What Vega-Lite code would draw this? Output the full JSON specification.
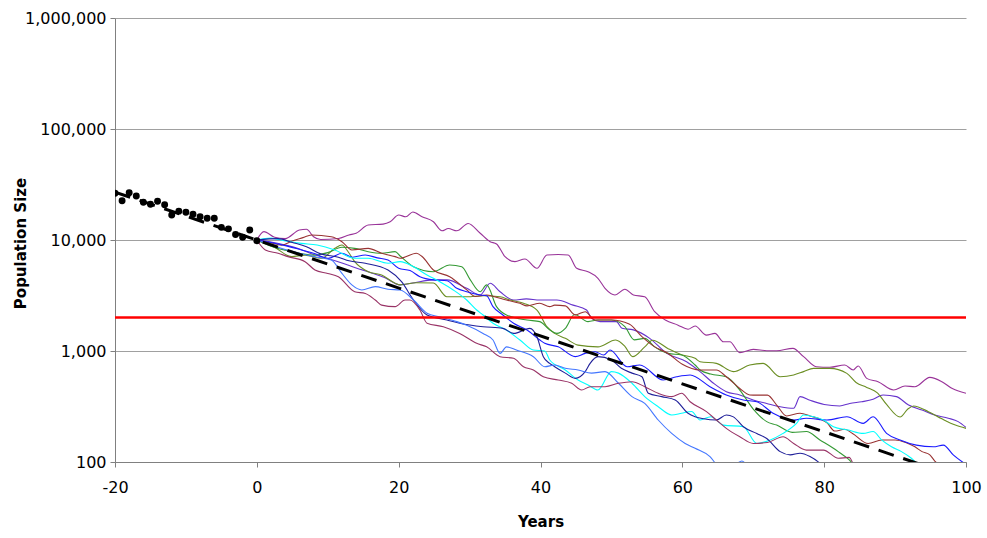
{
  "$schema": "https://vega.github.io/schema/vega-lite/v6.json",
  "width": 851,
  "height": 444,
  "autosize": "none",
  "padding": {"left": 115, "top": 18, "right": 21, "bottom": 76},
  "background": "white",
  "config": {"view": {"stroke": null}, "font": "DejaVu Sans"},
  "datasets": {
    "obs": [
      {"t": -20, "n": 26350}, {"t": -19, "n": 22600}, {"t": -18, "n": 26700}, {"t": -17, "n": 24900},
      {"t": -16, "n": 21900}, {"t": -15, "n": 21000}, {"t": -14, "n": 22300}, {"t": -13, "n": 20800},
      {"t": -12, "n": 16800}, {"t": -11, "n": 18200}, {"t": -10, "n": 17800}, {"t": -9, "n": 17100},
      {"t": -8, "n": 16200}, {"t": -7, "n": 15700}, {"t": -6, "n": 15700}, {"t": -5, "n": 13000},
      {"t": -4, "n": 12600}, {"t": -3, "n": 11200}, {"t": -2, "n": 10600}, {"t": -1, "n": 12300},
      {"t": 0, "n": 9850}
    ],
    "trend": [{"t": -20, "n": 27000}, {"t": 100, "n": 69.2}],
    "thresh": [{"t": -20, "n": 2000}, {"t": 100, "n": 2000}],
    "sims": [
      {"s":"purple","t":0,"n":10000},{"s":"purple","t":1,"n":11900},{"s":"purple","t":2.5,"n":10600},{"s":"purple","t":4,"n":10300},{"s":"purple","t":6,"n":12300},{"s":"purple","t":7,"n":12500},{"s":"purple","t":8,"n":10700},{"s":"purple","t":9,"n":10100},{"s":"purple","t":11.5,"n":10300},{"s":"purple","t":13,"n":11100},{"s":"purple","t":14,"n":11500},{"s":"purple","t":15.7,"n":13650},{"s":"purple","t":17.8,"n":13900},{"s":"purple","t":18.8,"n":14600},{"s":"purple","t":20,"n":16800},{"s":"purple","t":21,"n":16200},{"s":"purple","t":22,"n":17900},{"s":"purple","t":23.3,"n":16200},{"s":"purple","t":24.9,"n":14600},{"s":"purple","t":26.1,"n":12100},{"s":"purple","t":27,"n":12700},{"s":"purple","t":28.2,"n":12100},{"s":"purple","t":29.8,"n":14100},{"s":"purple","t":31.5,"n":11500},{"s":"purple","t":32.9,"n":9660},{"s":"purple","t":33.8,"n":9210},{"s":"purple","t":35,"n":7070},{"s":"purple","t":36.4,"n":6380},{"s":"purple","t":37.8,"n":6750},{"s":"purple","t":39.5,"n":5560},{"s":"purple","t":40.9,"n":7330},{"s":"purple","t":42.5,"n":7400},{"s":"purple","t":43.9,"n":7330},{"s":"purple","t":45.1,"n":5560},{"s":"purple","t":46.7,"n":5180},{"s":"purple","t":48.1,"n":4520},{"s":"purple","t":49.1,"n":3670},{"s":"purple","t":50.5,"n":3200},{"s":"purple","t":51.9,"n":3600},{"s":"purple","t":53.1,"n":3200},{"s":"purple","t":54.7,"n":3080},{"s":"purple","t":56.1,"n":2260},{"s":"purple","t":57.6,"n":1900},{"s":"purple","t":59.4,"n":1710},{"s":"purple","t":60.8,"n":1570},{"s":"purple","t":61.8,"n":1680},{"s":"purple","t":63.4,"n":1390},{"s":"purple","t":64.6,"n":1440},{"s":"purple","t":65.8,"n":1210},{"s":"purple","t":66.7,"n":1210},{"s":"purple","t":68.1,"n":966},{"s":"purple","t":70,"n":1035},{"s":"purple","t":71.9,"n":1006},{"s":"purple","t":73.3,"n":1006},{"s":"purple","t":75.6,"n":1057},{"s":"purple","t":77.1,"n":889},{"s":"purple","t":78.9,"n":722},{"s":"purple","t":80.8,"n":713},{"s":"purple","t":82.9,"n":748},{"s":"purple","t":84.1,"n":675},{"s":"purple","t":84.8,"n":733},{"s":"purple","t":86,"n":567},{"s":"purple","t":87.6,"n":529},{"s":"purple","t":89.8,"n":445},{"s":"purple","t":91.4,"n":484},{"s":"purple","t":92.8,"n":477},{"s":"purple","t":94.9,"n":579},{"s":"purple","t":96.6,"n":529},{"s":"purple","t":98,"n":461},{"s":"purple","t":100,"n":416},
      {"s":"violet","t":0,"n":10000},{"s":"violet","t":2,"n":9600},{"s":"violet","t":4,"n":9000},{"s":"violet","t":6,"n":8300},{"s":"violet","t":8,"n":7400},{"s":"violet","t":10,"n":6800},{"s":"violet","t":12,"n":6200},{"s":"violet","t":14,"n":5600},{"s":"violet","t":16,"n":5100},{"s":"violet","t":18,"n":4600},{"s":"violet","t":20.2,"n":3940},{"s":"violet","t":22,"n":4100},{"s":"violet","t":24.9,"n":4370},{"s":"violet","t":26.8,"n":4370},{"s":"violet","t":29.6,"n":3670},{"s":"violet","t":31.5,"n":3200},{"s":"violet","t":32.9,"n":4075},{"s":"violet","t":34.3,"n":3420},{"s":"violet","t":36.2,"n":2880},{"s":"violet","t":38,"n":2950},{"s":"violet","t":39.9,"n":2880},{"s":"violet","t":42.3,"n":2880},{"s":"violet","t":44.6,"n":2590},{"s":"violet","t":46.5,"n":2340},{"s":"violet","t":47.2,"n":1970},{"s":"violet","t":48.4,"n":1840},{"s":"violet","t":50.7,"n":1840},{"s":"violet","t":51.5,"n":1600},{"s":"violet","t":53.1,"n":1550},{"s":"violet","t":55.4,"n":1300},{"s":"violet","t":57.8,"n":952},{"s":"violet","t":60.6,"n":801},{"s":"violet","t":62.5,"n":652},{"s":"violet","t":64.4,"n":512},{"s":"violet","t":66.2,"n":430},{"s":"violet","t":68.1,"n":402},{"s":"violet","t":70,"n":362},{"s":"violet","t":71.9,"n":337},{"s":"violet","t":73.8,"n":315},{"s":"violet","t":75.7,"n":305},{"s":"violet","t":76.6,"n":388},{"s":"violet","t":78,"n":360},{"s":"violet","t":80,"n":330},{"s":"violet","t":82.2,"n":320},{"s":"violet","t":83.6,"n":337},{"s":"violet","t":85.3,"n":349},{"s":"violet","t":86.9,"n":367},{"s":"violet","t":88.3,"n":402},{"s":"violet","t":90.2,"n":388},{"s":"violet","t":91.9,"n":326},{"s":"violet","t":93.8,"n":294},{"s":"violet","t":95.6,"n":265},{"s":"violet","t":97.5,"n":248},{"s":"violet","t":98.9,"n":231},{"s":"violet","t":100,"n":205},
      {"s":"olive","t":0,"n":10000},{"s":"olive","t":2.6,"n":8500},{"s":"olive","t":4.9,"n":7080},{"s":"olive","t":6.8,"n":7300},{"s":"olive","t":9.1,"n":6840},{"s":"olive","t":11,"n":8410},{"s":"olive","t":12,"n":9010},{"s":"olive","t":12.9,"n":7800},{"s":"olive","t":13.8,"n":6380},{"s":"olive","t":15.7,"n":5180},{"s":"olive","t":17.6,"n":4840},{"s":"olive","t":19.5,"n":4075},{"s":"olive","t":20.2,"n":3940},{"s":"olive","t":22.5,"n":4120},{"s":"olive","t":24.9,"n":4100},{"s":"olive","t":26.8,"n":3080},{"s":"olive","t":29.6,"n":3080},{"s":"olive","t":32,"n":3150},{"s":"olive","t":34.3,"n":3080},{"s":"olive","t":35.7,"n":2880},{"s":"olive","t":37.6,"n":2690},{"s":"olive","t":39.5,"n":2340},{"s":"olive","t":40.9,"n":1655},{"s":"olive","t":42,"n":1440},{"s":"olive","t":43.5,"n":1300},{"s":"olive","t":45.3,"n":1130},{"s":"olive","t":48.1,"n":1090},{"s":"olive","t":50.6,"n":1256},{"s":"olive","t":51.9,"n":1100},{"s":"olive","t":53,"n":889},{"s":"olive","t":54.7,"n":1090},{"s":"olive","t":55.8,"n":1250},{"s":"olive","t":58,"n":1050},{"s":"olive","t":59.8,"n":930},{"s":"olive","t":61.8,"n":859},{"s":"olive","t":62.5,"n":801},{"s":"olive","t":64.8,"n":774},{"s":"olive","t":67.2,"n":652},{"s":"olive","t":69.5,"n":748},{"s":"olive","t":71.4,"n":774},{"s":"olive","t":73.8,"n":586},{"s":"olive","t":75.7,"n":608},{"s":"olive","t":77.1,"n":652},{"s":"olive","t":78.5,"n":698},{"s":"olive","t":80.8,"n":698},{"s":"olive","t":83.2,"n":629},{"s":"olive","t":84.5,"n":520},{"s":"olive","t":86,"n":470},{"s":"olive","t":87.5,"n":420},{"s":"olive","t":88.8,"n":330},{"s":"olive","t":90.7,"n":254},{"s":"olive","t":91.8,"n":300},{"s":"olive","t":92.6,"n":320},{"s":"olive","t":94.7,"n":284},{"s":"olive","t":96.6,"n":245},{"s":"olive","t":98.5,"n":215},{"s":"olive","t":100,"n":201},
      {"s":"green","t":0,"n":10000},{"s":"green","t":2,"n":8800},{"s":"green","t":4,"n":8100},{"s":"green","t":6,"n":7600},{"s":"green","t":8,"n":7300},{"s":"green","t":10,"n":7700},{"s":"green","t":12,"n":8600},{"s":"green","t":13.8,"n":8400},{"s":"green","t":15.7,"n":7850},{"s":"green","t":17.6,"n":7600},{"s":"green","t":19.5,"n":7850},{"s":"green","t":20.2,"n":7180},{"s":"green","t":22.1,"n":5740},{"s":"green","t":24.9,"n":5180},{"s":"green","t":27.2,"n":5960},{"s":"green","t":28.9,"n":5740},{"s":"green","t":30.1,"n":4370},{"s":"green","t":31.5,"n":3420},{"s":"green","t":32.4,"n":3940},{"s":"green","t":33.8,"n":2510},{"s":"green","t":35.2,"n":2110},{"s":"green","t":38.1,"n":1900},{"s":"green","t":39.9,"n":1840},{"s":"green","t":41.3,"n":1550},{"s":"green","t":42.3,"n":1440},{"s":"green","t":43.5,"n":1600},{"s":"green","t":44.8,"n":2130},{"s":"green","t":46.7,"n":1840},{"s":"green","t":48.1,"n":1900},{"s":"green","t":50,"n":1900},{"s":"green","t":51.9,"n":1655},{"s":"green","t":53.2,"n":1260},{"s":"green","t":54.7,"n":1300},{"s":"green","t":56.1,"n":1090},{"s":"green","t":58,"n":952},{"s":"green","t":59.9,"n":920},{"s":"green","t":61.8,"n":748},{"s":"green","t":62.5,"n":675},{"s":"green","t":64,"n":620},{"s":"green","t":66.2,"n":586},{"s":"green","t":68.1,"n":445},{"s":"green","t":70,"n":300},{"s":"green","t":71.9,"n":231},{"s":"green","t":73.3,"n":215},{"s":"green","t":75.5,"n":185},{"s":"green","t":77.5,"n":188},{"s":"green","t":79.4,"n":158},{"s":"green","t":81.3,"n":133},{"s":"green","t":82.2,"n":121},{"s":"green","t":83.5,"n":105},{"s":"green","t":84.3,"n":92},{"s":"green","t":85,"n":80},
      {"s":"darkred","t":0,"n":10000},{"s":"darkred","t":2,"n":9400},{"s":"darkred","t":3.5,"n":9000},{"s":"darkred","t":5,"n":9800},{"s":"darkred","t":6.5,"n":10500},{"s":"darkred","t":7.7,"n":11100},{"s":"darkred","t":10.5,"n":10700},{"s":"darkred","t":12,"n":9660},{"s":"darkred","t":13.4,"n":8130},{"s":"darkred","t":15.7,"n":8410},{"s":"darkred","t":17.6,"n":7590},{"s":"darkred","t":19.5,"n":7080},{"s":"darkred","t":20.2,"n":6840},{"s":"darkred","t":22.5,"n":7590},{"s":"darkred","t":23.3,"n":7100},{"s":"darkred","t":24.9,"n":5370},{"s":"darkred","t":27.2,"n":4670},{"s":"darkred","t":29.6,"n":3550},{"s":"darkred","t":30.8,"n":3100},{"s":"darkred","t":32.4,"n":3200},{"s":"darkred","t":33.5,"n":3080},{"s":"darkred","t":35.2,"n":2880},{"s":"darkred","t":37.1,"n":2690},{"s":"darkred","t":38.1,"n":2550},{"s":"darkred","t":39.9,"n":2690},{"s":"darkred","t":41.3,"n":2510},{"s":"darkred","t":42,"n":2590},{"s":"darkred","t":43.5,"n":2550},{"s":"darkred","t":44.9,"n":2110},{"s":"darkred","t":46.3,"n":2260},{"s":"darkred","t":47.7,"n":1900},{"s":"darkred","t":50,"n":1900},{"s":"darkred","t":52.5,"n":1750},{"s":"darkred","t":54.3,"n":1346},{"s":"darkred","t":56,"n":1100},{"s":"darkred","t":58,"n":950},{"s":"darkred","t":60,"n":760},{"s":"darkred","t":62.5,"n":675},{"s":"darkred","t":64.8,"n":675},{"s":"darkred","t":66.2,"n":586},{"s":"darkred","t":68.1,"n":460},{"s":"darkred","t":69.5,"n":402},{"s":"darkred","t":70.5,"n":400},{"s":"darkred","t":72,"n":400},{"s":"darkred","t":73.3,"n":326},{"s":"darkred","t":74.7,"n":260},{"s":"darkred","t":76.6,"n":275},{"s":"darkred","t":78,"n":260},{"s":"darkred","t":80.4,"n":225},{"s":"darkred","t":81.5,"n":190},{"s":"darkred","t":82.9,"n":197},{"s":"darkred","t":84,"n":181},{"s":"darkred","t":86.2,"n":147},{"s":"darkred","t":88.1,"n":158},{"s":"darkred","t":90,"n":158},{"s":"darkred","t":91.5,"n":150},{"s":"darkred","t":92.8,"n":137},{"s":"darkred","t":93.8,"n":124},{"s":"darkred","t":94.9,"n":116},{"s":"darkred","t":95.6,"n":102},{"s":"darkred","t":96.6,"n":92},{"s":"darkred","t":97.2,"n":97},{"s":"darkred","t":98,"n":80},
      {"s":"blue","t":0,"n":10000},{"s":"blue","t":2,"n":9500},{"s":"blue","t":4,"n":8900},{"s":"blue","t":6.3,"n":8130},{"s":"blue","t":8,"n":7600},{"s":"blue","t":10.1,"n":6840},{"s":"blue","t":12,"n":7590},{"s":"blue","t":13.5,"n":7000},{"s":"blue","t":15.3,"n":7330},{"s":"blue","t":17,"n":6900},{"s":"blue","t":18.5,"n":6610},{"s":"blue","t":20,"n":5560},{"s":"blue","t":21.6,"n":5300},{"s":"blue","t":23,"n":4670},{"s":"blue","t":24.9,"n":4370},{"s":"blue","t":26.8,"n":4300},{"s":"blue","t":28.2,"n":3670},{"s":"blue","t":29.6,"n":3420},{"s":"blue","t":31.5,"n":3200},{"s":"blue","t":32.4,"n":3150},{"s":"blue","t":33.3,"n":2510},{"s":"blue","t":34.7,"n":2110},{"s":"blue","t":36.2,"n":1780},{"s":"blue","t":38.1,"n":1545},{"s":"blue","t":39.9,"n":1256},{"s":"blue","t":40.6,"n":1172},{"s":"blue","t":42.5,"n":1090},{"s":"blue","t":44.9,"n":889},{"s":"blue","t":46.3,"n":952},{"s":"blue","t":47.7,"n":986},{"s":"blue","t":48.9,"n":920},{"s":"blue","t":49.8,"n":1020},{"s":"blue","t":52.2,"n":722},{"s":"blue","t":54,"n":748},{"s":"blue","t":57.3,"n":548},{"s":"blue","t":59.2,"n":586},{"s":"blue","t":61.1,"n":608},{"s":"blue","t":63.9,"n":477},{"s":"blue","t":66.2,"n":402},{"s":"blue","t":68.6,"n":362},{"s":"blue","t":70.5,"n":349},{"s":"blue","t":72.8,"n":275},{"s":"blue","t":75.7,"n":239},{"s":"blue","t":77.5,"n":248},{"s":"blue","t":80.4,"n":239},{"s":"blue","t":83.2,"n":256},{"s":"blue","t":85.5,"n":223},{"s":"blue","t":86.9,"n":256},{"s":"blue","t":88.8,"n":181},{"s":"blue","t":90.7,"n":158},{"s":"blue","t":93,"n":142},{"s":"blue","t":95.4,"n":137},{"s":"blue","t":96.8,"n":142},{"s":"blue","t":98.2,"n":116},{"s":"blue","t":100,"n":95},
      {"s":"cyan","t":0,"n":10000},{"s":"cyan","t":2,"n":10400},{"s":"cyan","t":4,"n":9800},{"s":"cyan","t":6.3,"n":9330},{"s":"cyan","t":8.5,"n":9000},{"s":"cyan","t":11,"n":8130},{"s":"cyan","t":13.8,"n":6840},{"s":"cyan","t":15.7,"n":6840},{"s":"cyan","t":18.5,"n":6170},{"s":"cyan","t":20.2,"n":6380},{"s":"cyan","t":22.1,"n":5740},{"s":"cyan","t":24,"n":4840},{"s":"cyan","t":25.8,"n":4210},{"s":"cyan","t":27.7,"n":3550},{"s":"cyan","t":29.6,"n":2880},{"s":"cyan","t":31,"n":2340},{"s":"cyan","t":31.9,"n":2110},{"s":"cyan","t":33.3,"n":1780},{"s":"cyan","t":35.2,"n":1545},{"s":"cyan","t":37.1,"n":1256},{"s":"cyan","t":39,"n":1020},{"s":"cyan","t":40.6,"n":1000},{"s":"cyan","t":41.3,"n":830},{"s":"cyan","t":43.5,"n":675},{"s":"cyan","t":45.3,"n":548},{"s":"cyan","t":46.7,"n":495},{"s":"cyan","t":48.1,"n":445},{"s":"cyan","t":50,"n":652},{"s":"cyan","t":51,"n":632},{"s":"cyan","t":52.9,"n":512},{"s":"cyan","t":54.7,"n":388},{"s":"cyan","t":56.6,"n":315},{"s":"cyan","t":58.5,"n":265},{"s":"cyan","t":59.9,"n":275},{"s":"cyan","t":61.3,"n":285},{"s":"cyan","t":62.5,"n":239},{"s":"cyan","t":64,"n":256},{"s":"cyan","t":65.8,"n":215},{"s":"cyan","t":68.6,"n":208},{"s":"cyan","t":70.5,"n":147},{"s":"cyan","t":72.4,"n":158},{"s":"cyan","t":74.2,"n":181},{"s":"cyan","t":76.1,"n":223},{"s":"cyan","t":77.1,"n":265},{"s":"cyan","t":78.5,"n":256},{"s":"cyan","t":79.9,"n":239},{"s":"cyan","t":81.3,"n":208},{"s":"cyan","t":83.4,"n":194},{"s":"cyan","t":85.5,"n":181},{"s":"cyan","t":86.9,"n":188},{"s":"cyan","t":88.1,"n":158},{"s":"cyan","t":89.5,"n":137},{"s":"cyan","t":90.9,"n":124},{"s":"cyan","t":92.3,"n":108},{"s":"cyan","t":93.3,"n":94},{"s":"cyan","t":94.5,"n":82},
      {"s":"navy","t":0,"n":10000},{"s":"navy","t":3,"n":10300},{"s":"navy","t":5,"n":9500},{"s":"navy","t":7,"n":8700},{"s":"navy","t":9,"n":7500},{"s":"navy","t":11.5,"n":7000},{"s":"navy","t":13,"n":6500},{"s":"navy","t":15.3,"n":6170},{"s":"navy","t":18.5,"n":5370},{"s":"navy","t":20.4,"n":4210},{"s":"navy","t":22.1,"n":2880},{"s":"navy","t":24,"n":2110},{"s":"navy","t":26.8,"n":1900},{"s":"navy","t":28.6,"n":1780},{"s":"navy","t":31.9,"n":1655},{"s":"navy","t":34.7,"n":1600},{"s":"navy","t":36.2,"n":1440},{"s":"navy","t":38.5,"n":1600},{"s":"navy","t":39.5,"n":1346},{"s":"navy","t":40.4,"n":889},{"s":"navy","t":41.3,"n":774},{"s":"navy","t":42,"n":722},{"s":"navy","t":43.5,"n":632},{"s":"navy","t":44.9,"n":567},{"s":"navy","t":46.3,"n":652},{"s":"navy","t":47,"n":774},{"s":"navy","t":48.1,"n":889},{"s":"navy","t":50,"n":830},{"s":"navy","t":51.4,"n":698},{"s":"navy","t":52.9,"n":632},{"s":"navy","t":54.3,"n":586},{"s":"navy","t":55.2,"n":416},{"s":"navy","t":57.1,"n":388},{"s":"navy","t":59,"n":362},{"s":"navy","t":60.8,"n":275},{"s":"navy","t":61.8,"n":256},{"s":"navy","t":63,"n":245},{"s":"navy","t":64.8,"n":239},{"s":"navy","t":66.2,"n":265},{"s":"navy","t":67.2,"n":255},{"s":"navy","t":68.6,"n":208},{"s":"navy","t":70.5,"n":181},{"s":"navy","t":71.9,"n":163},{"s":"navy","t":73.8,"n":124},{"s":"navy","t":75.2,"n":116},{"s":"navy","t":76.6,"n":120},{"s":"navy","t":78,"n":112},{"s":"navy","t":79.4,"n":97},{"s":"navy","t":80.3,"n":82},
      {"s":"lightblue","t":0,"n":10000},{"s":"lightblue","t":2,"n":9000},{"s":"lightblue","t":4,"n":8200},{"s":"lightblue","t":6,"n":7600},{"s":"lightblue","t":8.5,"n":7000},{"s":"lightblue","t":10.5,"n":6610},{"s":"lightblue","t":12,"n":5000},{"s":"lightblue","t":13.4,"n":3940},{"s":"lightblue","t":14.8,"n":3550},{"s":"lightblue","t":16.7,"n":3800},{"s":"lightblue","t":18.5,"n":3600},{"s":"lightblue","t":20.2,"n":3550},{"s":"lightblue","t":22.1,"n":2880},{"s":"lightblue","t":24,"n":2190},{"s":"lightblue","t":25.8,"n":2030},{"s":"lightblue","t":28.2,"n":1840},{"s":"lightblue","t":29.6,"n":1710},{"s":"lightblue","t":31.9,"n":1440},{"s":"lightblue","t":33.3,"n":1256},{"s":"lightblue","t":34.3,"n":952},{"s":"lightblue","t":35.2,"n":1090},{"s":"lightblue","t":36.6,"n":1020},{"s":"lightblue","t":39,"n":889},{"s":"lightblue","t":40.6,"n":722},{"s":"lightblue","t":42,"n":748},{"s":"lightblue","t":43.5,"n":698},{"s":"lightblue","t":45.3,"n":675},{"s":"lightblue","t":47.2,"n":632},{"s":"lightblue","t":49.1,"n":652},{"s":"lightblue","t":51,"n":512},{"s":"lightblue","t":52.9,"n":388},{"s":"lightblue","t":54.7,"n":337},{"s":"lightblue","t":56.6,"n":239},{"s":"lightblue","t":58.5,"n":181},{"s":"lightblue","t":60.4,"n":147},{"s":"lightblue","t":61.8,"n":133},{"s":"lightblue","t":63.9,"n":112},{"s":"lightblue","t":65,"n":93},{"s":"lightblue","t":66.5,"n":88},{"s":"lightblue","t":67.5,"n":95},{"s":"lightblue","t":68.4,"n":102},{"s":"lightblue","t":69.7,"n":80},
      {"s":"mauve","t":0,"n":10000},{"s":"mauve","t":1.2,"n":8130},{"s":"mauve","t":3,"n":7600},{"s":"mauve","t":4.4,"n":7080},{"s":"mauve","t":6.8,"n":6380},{"s":"mauve","t":8.2,"n":5370},{"s":"mauve","t":10,"n":5000},{"s":"mauve","t":11.5,"n":4670},{"s":"mauve","t":13.8,"n":3420},{"s":"mauve","t":15.3,"n":3300},{"s":"mauve","t":16.7,"n":2880},{"s":"mauve","t":17.6,"n":2590},{"s":"mauve","t":19.5,"n":2510},{"s":"mauve","t":20.9,"n":2880},{"s":"mauve","t":21.6,"n":2880},{"s":"mauve","t":23,"n":2340},{"s":"mauve","t":24,"n":1780},{"s":"mauve","t":26.3,"n":1655},{"s":"mauve","t":28.6,"n":1440},{"s":"mauve","t":31,"n":1172},{"s":"mauve","t":32.4,"n":1090},{"s":"mauve","t":34.3,"n":889},{"s":"mauve","t":36.2,"n":859},{"s":"mauve","t":37.6,"n":722},{"s":"mauve","t":39,"n":675},{"s":"mauve","t":40.4,"n":586},{"s":"mauve","t":42.5,"n":548},{"s":"mauve","t":44.4,"n":512},{"s":"mauve","t":45.8,"n":445},{"s":"mauve","t":47,"n":477},{"s":"mauve","t":49.1,"n":477},{"s":"mauve","t":51,"n":512},{"s":"mauve","t":52.9,"n":529},{"s":"mauve","t":54.7,"n":477},{"s":"mauve","t":56.6,"n":416},{"s":"mauve","t":58.5,"n":388},{"s":"mauve","t":59.9,"n":416},{"s":"mauve","t":61.1,"n":349},{"s":"mauve","t":63.4,"n":284},{"s":"mauve","t":64.8,"n":239},{"s":"mauve","t":66.2,"n":201},{"s":"mauve","t":68.1,"n":169},{"s":"mauve","t":70,"n":147},{"s":"mauve","t":72,"n":150},{"s":"mauve","t":74.2,"n":169},{"s":"mauve","t":75.7,"n":147},{"s":"mauve","t":77.5,"n":128},{"s":"mauve","t":79.9,"n":128},{"s":"mauve","t":82,"n":108},{"s":"mauve","t":83.5,"n":110},{"s":"mauve","t":84.5,"n":80}
    ]
  },
  "encoding": {
    "x": {
      "field": "t", "type": "quantitative",
      "scale": {"domain": [-20, 100], "nice": false, "zero": false},
      "axis": {
        "title": "Years", "titleFont": "DejaVu Sans", "titleFontSize": 15, "titleFontWeight": "bold", "titleColor": "black",
        "titleY": 59, "titleBaseline": "middle",
        "values": [-20, 0, 20, 40, 60, 80, 100],
        "labelExpr": "'' + datum.value",
        "labelFont": "DejaVu Sans", "labelFontSize": 16, "labelColor": "black", "labelPadding": 12,
        "labelFlush": false, "labelOverlap": false,
        "tickSize": 5, "tickColor": "#808080", "domainColor": "#808080", "grid": false
      }
    },
    "y": {
      "field": "n", "type": "quantitative",
      "scale": {"type": "log", "domain": [100, 1000000], "nice": false},
      "axis": {
        "title": "Population Size", "titleFont": "DejaVu Sans", "titleFontSize": 15, "titleFontWeight": "bold", "titleColor": "black",
        "titleX": -95, "titleY": 225, "titleBaseline": "middle", "titleAlign": "center", "titleAngle": -90,
        "values": [100, 1000, 10000, 100000, 1000000],
        "labelExpr": "format(datum.value, ',')",
        "labelFont": "DejaVu Sans", "labelFontSize": 16, "labelColor": "black", "labelPadding": 4,
        "labelOverlap": false, "labelFlush": false,
        "tickSize": 5, "tickColor": "#808080", "domainColor": "#808080",
        "grid": true, "gridColor": "#A0A0A0", "gridWidth": 1
      }
    }
  },
  "layer": [
    {
      "data": {"name": "sims"},
      "mark": {"type": "line", "clip": true, "strokeWidth": 1.1, "interpolate": "monotone"},
      "encoding": {
        "color": {
          "field": "s", "type": "nominal", "legend": null,
          "scale": {
            "domain": ["purple", "violet", "olive", "green", "darkred", "blue", "cyan", "navy", "mauve", "lightblue"],
            "range": ["#993399", "#6633CC", "#6B8E23", "#339933", "#993333", "#1A1AFF", "#00FFFF", "#1F1F99", "#993366", "#4477FF"]
          }
        }
      }
    },
    {
      "data": {"name": "thresh"},
      "mark": {"type": "line", "clip": true, "color": "#FF0000", "strokeWidth": 2.5},
      "encoding": {}
    },
    {
      "data": {"name": "trend"},
      "mark": {"type": "line", "clip": true, "color": "black", "strokeWidth": 3, "strokeDash": [16, 10]},
      "encoding": {}
    },
    {
      "data": {"name": "obs"},
      "mark": {"type": "point", "filled": true, "color": "black", "size": 48, "opacity": 1, "clip": true},
      "encoding": {}
    }
  ]
}
